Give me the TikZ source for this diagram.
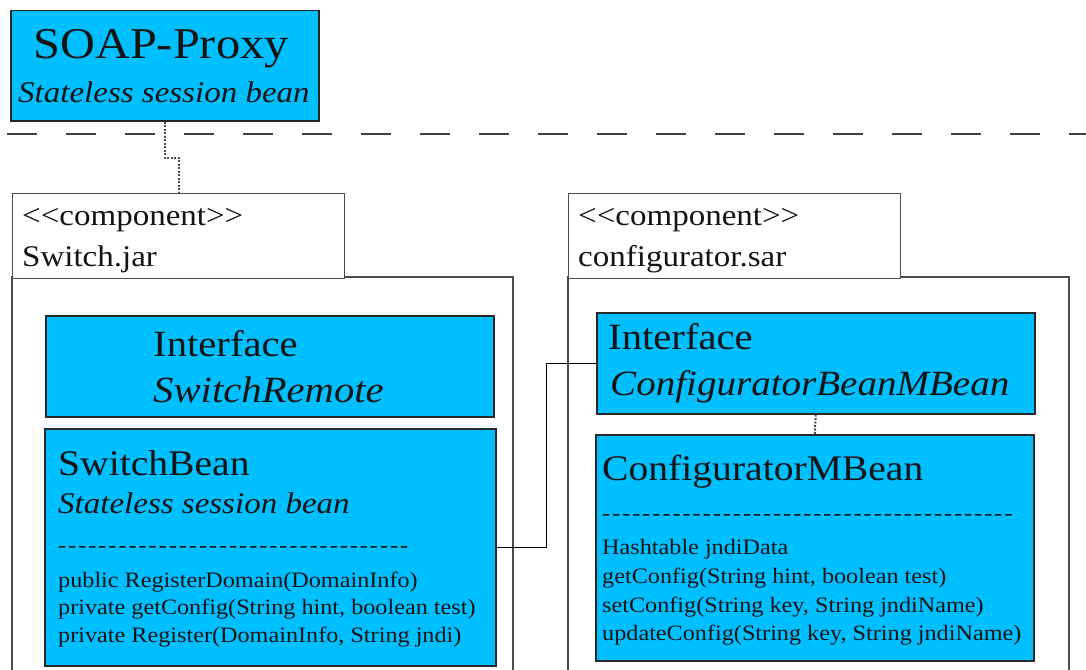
\documentclass[tikz,border=0pt]{standalone}
\usepackage{fontspec}
\setmainfont{Liberation Serif}[FakeStretch=1.1]
\definecolor{beanblue}{RGB}{0,191,255}
\definecolor{inkline}{RGB}{40,40,40}
\newcommand{\fs}[1]{\fontsize{#1}{#1}\selectfont}
% a row of spaced hyphens used as a compartment rule
\newcommand{\hyrow}[1]{\foreach \i in {1,...,#1}{-\kern2pt}}
\tikzset{
  bean/.style={draw=inkline, line width=1.5pt, fill=beanblue, inner sep=0pt, anchor=north west},
  comptab/.style={draw=black!70, line width=1.4pt, fill=white, inner sep=0pt, anchor=north west},
  txt/.style={anchor=base west, inner sep=0pt, text=black!92},
  dep/.style={draw=black!70, line width=2pt, dash pattern=on 2pt off 1.5pt},
  link/.style={draw=black, line width=1.4pt},
  sep/.style={draw=black!75, line width=2.8pt, dash pattern=on 30pt off 29pt}
}
\begin{document}
\begin{tikzpicture}[x=1pt, y=-1pt]
\useasboundingbox (0,0) rectangle (1086,669);
\clip (0,0) rectangle (1086,669);
\fill[white] (0,0) rectangle (1086,669);

% tier separator
\draw[sep] (7,134) -- (1086,134);

% SOAP proxy bean
\node[bean, minimum width=308pt, minimum height=110pt] (soap) at (10,10) {};
\node[txt, font=\fs{44}] (soapname) at (33,59) {SOAP-Proxy};
\node[txt, font=\fs{30}\itshape] (soapkind) at (18,102) {Stateless session bean};

% Switch.jar component
\draw[draw=black!70, line width=1.4pt] (12,277) rectangle (513,720);
\node[comptab, minimum width=332pt, minimum height=85pt] (swtab) at (12,193) {};
\node[txt, font=\fs{30}] (swst) at (22,225) {<{}<component>{}>};
\node[txt, font=\fs{30}] (swname) at (22,266) {Switch.jar};

% configurator.sar component
\draw[draw=black!70, line width=1.4pt] (568,277) rectangle (1069,720);
\node[comptab, minimum width=332pt, minimum height=85pt] (cftab) at (568,193) {};
\node[txt, font=\fs{30}] (cfst) at (578,225) {<{}<component>{}>};
\node[txt, font=\fs{30}] (cfname) at (578,266) {configurator.sar};

% SwitchRemote interface
\node[bean, minimum width=448pt, minimum height=101pt] (swiface) at (45,315) {};
\node[txt, font=\fs{37}] (swifk) at (153,356) {Interface};
\node[txt, font=\fs{37}\itshape] (swifn) at (153,402) {SwitchRemote};

% SwitchBean
\node[bean, minimum width=451pt, minimum height=237pt] (swbean) at (44,428) {};
\node[txt, font=\fs{36}] (swbn) at (58,475) {SwitchBean};
\node[txt, font=\fs{30}\itshape] (swbk) at (58,513) {Stateless session bean};
\node[txt, font=\fs{22}] (swbr) at (58,552) {\hyrow{35}};
\node[txt, font=\fs{22}] (swm1) at (58,587) {public RegisterDomain(DomainInfo)};
\node[txt, font=\fs{22}] (swm2) at (58,614) {private getConfig(String hint, boolean test)};
\node[txt, font=\fs{22}] (swm3) at (58,642) {private Register(DomainInfo, String jndi)};

% ConfiguratorBeanMBean interface
\node[bean, minimum width=438pt, minimum height=101pt] (cfiface) at (596,312) {};
\node[txt, font=\fs{37}] (cfifk) at (608,349) {Interface};
\node[txt, font=\fs{35.5}\itshape] (cfifn) at (610,395) {ConfiguratorBeanMBean};

% ConfiguratorMBean
\node[bean, minimum width=438pt, minimum height=226pt] (cfbean) at (595,434) {};
\node[txt, font=\fs{36}] (cfbn) at (602,480) {ConfiguratorMBean};
\node[txt, font=\fs{22}] (cfbr) at (602,520) {\hyrow{41}};
\node[txt, font=\fs{22}] (cfm1) at (602,554) {Hashtable jndiData};
\node[txt, font=\fs{22}] (cfm2) at (602,583) {getConfig(String hint, boolean test)};
\node[txt, font=\fs{22}] (cfm3) at (602,612) {setConfig(String key, String jndiName)};
\node[txt, font=\fs{22}] (cfm4) at (602,640) {updateConfig(String key, String jndiName)};

% connectors
\draw[dep] (soap.south) -- ++(0,36) -| (swtab.north);
\draw[link] (swbean.east) -- ++(50,0) |- (cfiface.west);
\draw[dep] (cfiface.south) -- (cfbean.north);
\end{tikzpicture}
\end{document}
